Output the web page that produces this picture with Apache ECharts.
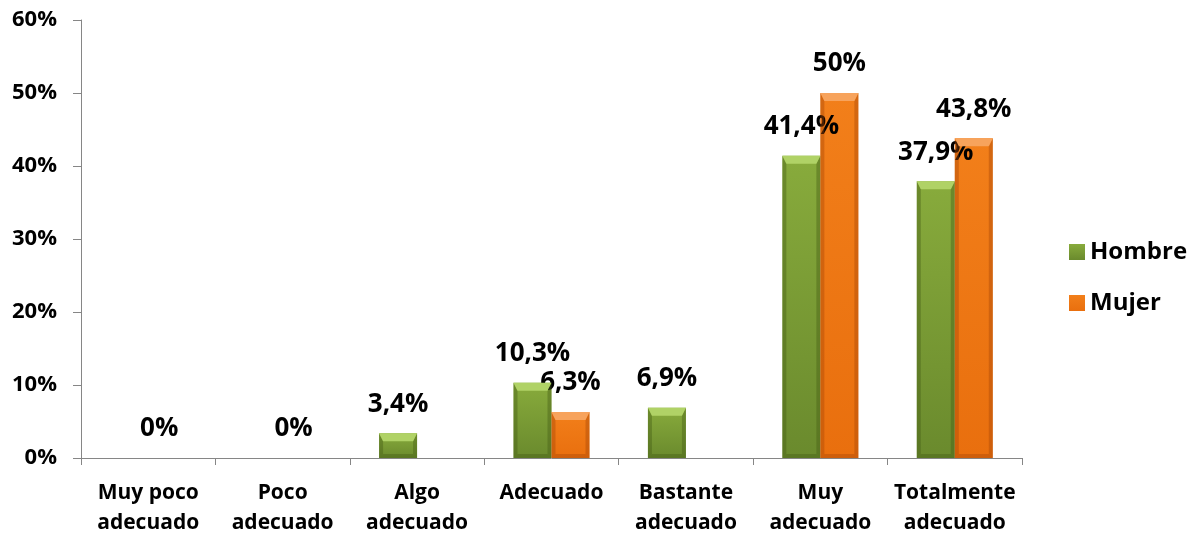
<!DOCTYPE html>
<html>
<head>
<meta charset="utf-8">
<script src="https://cdn.jsdelivr.net/npm/echarts@6/dist/echarts.min.js"></script>
<style>
  html, body { margin: 0; padding: 0; background: #ffffff; }
  #chart { width: 1200px; height: 539px; }
</style>
</head>
<body>
<div id="chart"></div>
<script>
// Valoración por sexo (porcentaje de respuestas)
const categories = ['Muy poco\nadecuado', 'Poco\nadecuado', 'Algo\nadecuado', 'Adecuado', 'Bastante\nadecuado', 'Muy\nadecuado', 'Totalmente\nadecuado'];
const hombre = [0, 0, 3.4, 10.3, 6.9, 41.4, 37.9];
const mujer = [0, 0, 0, 6.3, 0, 50, 43.8];
// categories where a "0%" label is written
const zeroLabel = [true, true, false, false, false, false, false];
const yTicks = { min: 0, max: 60, step: 10 };

const FONT = 'Open Sans';
const BAR_W = 38;

const palette = {
  Hombre: { top: '#88ab3c', bottom: '#6a8a2d', bevel: '#b0d266', edge: 'rgba(70,92,22,0.42)' },
  Mujer:  { top: '#f27f1a', bottom: '#e96f0e', bevel: '#f7a35c', edge: 'rgba(170,72,6,0.42)' }
};

function fmt(v) {
  return (Number.isInteger(v) ? String(v) : v.toFixed(1).replace('.', ',')) + '%';
}

function fill(name) {
  const p = palette[name];
  return new echarts.graphic.LinearGradient(0, 0, 0, 1, [
    { offset: 0, color: p.top },
    { offset: 1, color: p.bottom }
  ]);
}

// bevel highlights drawn on top of each bar
function bevelSeries(name, values, side) {
  const p = palette[name];
  return {
    type: 'custom',
    name: name + '-bevel',
    silent: true,
    z: 3,
    data: values.map((v, i) => [i, v]),
    renderItem: function (params, api) {
      const v = api.value(1);
      if (!(v > 0)) return null;
      const topPt = api.coord([api.value(0), v]);
      const basePt = api.coord([api.value(0), 0]);
      const x0 = topPt[0] + side * BAR_W;
      const x1 = x0 + BAR_W;
      const y0 = topPt[1];
      const yb = basePt[1];
      const h = yb - y0;
      const bt = Math.min(8, h / 2);
      const bs = Math.min(4, h / 2);
      return {
        type: 'group',
        children: [
          { type: 'polygon', shape: { points: [[x0, y0], [x0 + bs, y0 + bt], [x0 + bs, yb - bs], [x0, yb]] }, style: { fill: p.edge } },
          { type: 'polygon', shape: { points: [[x1, y0], [x1 - bs, y0 + bt], [x1 - bs, yb - bs], [x1, yb]] }, style: { fill: p.edge } },
          { type: 'polygon', shape: { points: [[x0, yb], [x0 + bs, yb - bs], [x1 - bs, yb - bs], [x1, yb]] }, style: { fill: p.edge } },
          { type: 'polygon', shape: { points: [[x0, y0], [x1, y0], [x1 - bs, y0 + bt], [x0 + bs, y0 + bt]] }, style: { fill: p.bevel } }
        ]
      };
    }
  };
}

const labelStyle = {
  position: 'top',
  distance: 16,
  fontFamily: FONT,
  fontWeight: 'bold',
  fontSize: 26,
  color: '#000000',
  formatter: p => fmt(p.value)
};

const chart = echarts.init(document.getElementById('chart'), null, { renderer: 'canvas' });

chart.setOption({
  animation: false,
  backgroundColor: '#ffffff',
  grid: { left: 81, right: 178, top: 20, bottom: 81, containLabel: false },
  legend: {
    orient: 'vertical',
    left: 1064,
    top: 232,
    itemWidth: 16,
    itemHeight: 16,
    itemGap: 21,
    icon: 'rect',
    data: ['Hombre', 'Mujer'],
    textStyle: { fontFamily: FONT, fontWeight: 'bold', fontSize: 24, color: '#000000', lineHeight: 30 }
  },
  xAxis: {
    type: 'category',
    data: categories,
    boundaryGap: true,
    axisLine: { lineStyle: { color: '#868686', width: 1 } },
    axisTick: { show: true, length: 7, lineStyle: { color: '#868686' } },
    axisLabel: {
      interval: 0,
      margin: 20,
      fontFamily: FONT,
      fontWeight: 'bold',
      fontSize: 21,
      lineHeight: 30,
      color: '#000000'
    },
    splitLine: { show: false }
  },
  yAxis: {
    type: 'value',
    min: yTicks.min,
    max: yTicks.max,
    interval: yTicks.step,
    axisLine: { show: true, lineStyle: { color: '#868686', width: 1 } },
    axisTick: { show: true, length: 8, lineStyle: { color: '#868686' } },
    axisLabel: {
      margin: 24,
      fontFamily: FONT,
      fontWeight: 'bold',
      fontSize: 22,
      color: '#000000',
      formatter: v => v + '%'
    },
    splitLine: { show: false }
  },
  series: [
    {
      type: 'bar',
      name: 'Hombre',
      barWidth: BAR_W,
      barGap: '0%',
      itemStyle: { color: fill('Hombre') },
      label: labelStyle,
      data: hombre.map(v => ({ value: v, label: { show: v > 0 } })),
      z: 2
    },
    {
      type: 'bar',
      name: 'Mujer',
      barWidth: BAR_W,
      barGap: '0%',
      itemStyle: { color: fill('Mujer') },
      label: labelStyle,
      data: mujer.map((v, i) => ({
        value: v,
        label: { show: v > 0 || zeroLabel[i], offset: v > 0 ? [0, 0] : [-8, 0] }
      })),
      z: 2
    },
    bevelSeries('Hombre', hombre, -1),
    bevelSeries('Mujer', mujer, 0)
  ]
});
</script>
</body>
</html>
